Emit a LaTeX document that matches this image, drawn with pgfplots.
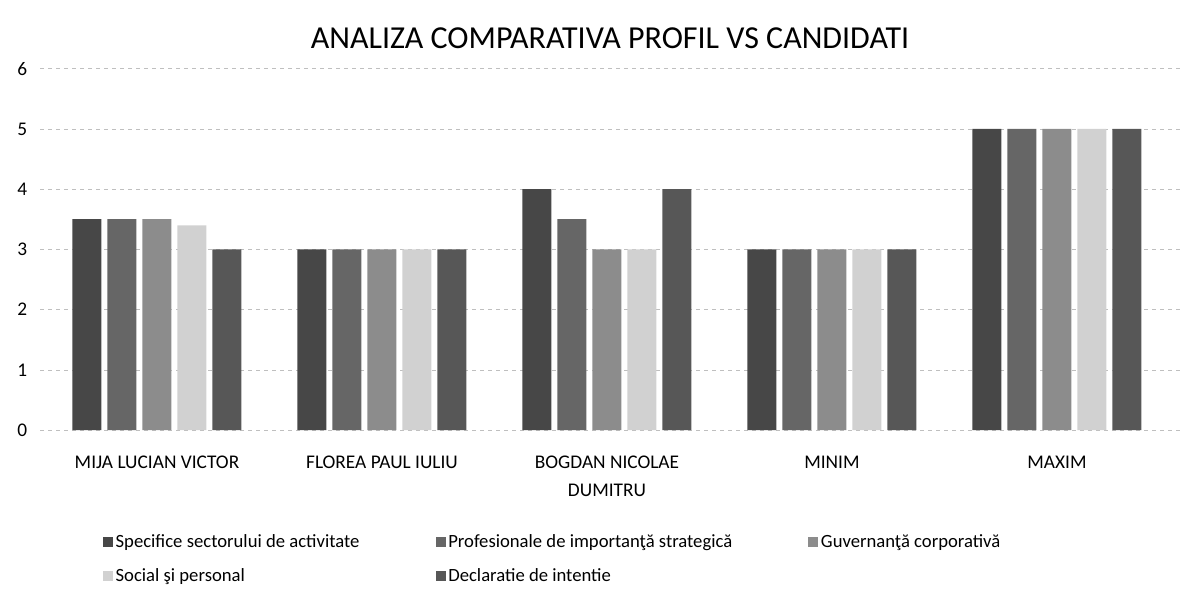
\documentclass[border=0pt]{standalone}
\usepackage{fontspec}
\setmainfont{Carlito}
\usepackage{pgfplots}
\pgfplotsset{compat=1.18}
\begin{document}
\begin{tikzpicture}
\path[use as bounding box] (0,0) rectangle (890.25pt,459pt);
\begin{axis}[
  at={(30pt,136.5pt)}, anchor=south west,
  scale only axis, width=855pt, height=271pt,
  ybar=4.5pt, bar width=21.75pt,
  xmin=-0.52, xmax=4.547, ymin=0, ymax=6,
  ytick={0,1,2,3,4,5,6},
  xtick=data,
  xticklabels={MIJA LUCIAN VICTOR, FLOREA PAUL IULIU, {BOGDAN NICOLAE\\DUMITRU}, MINIM, MAXIM},
  xticklabel style={align=center, font=\fontsize{14.5}{21}\selectfont, yshift=-16pt},
  yticklabel style={font=\fontsize{14.5}{17}\selectfont, xshift=-6pt},
  /pgf/number format/assume math mode=true,
  major tick length=0pt,
  axis line style={draw=none},
  ymajorgrids,
  grid style={black!25, dashed},
  title={ANALIZA COMPARATIVA PROFIL VS CANDIDATI},
  title style={font=\fontsize{24}{28}\selectfont, at={(0.5,1)}, anchor=center, yshift=17pt},
  legend columns=3,
  legend style={draw=none, fill=none, at={(0.0515,-0.274)}, anchor=north west,
    font=\fontsize{14}{17}\selectfont, row sep=10.5pt,
    /tikz/every even column/.append style={column sep=0pt}},
  legend cell align=left,
  legend image code/.code={\fill[#1] (0pt,-3.5pt) rectangle (7.5pt,4pt);},
]
\addplot[fill=black!72, draw=none] coordinates {(0,3.5) (1,3) (2,4) (3,3) (4,5)};
\addplot[fill=black!60, draw=none] coordinates {(0,3.5) (1,3) (2,3.5) (3,3) (4,5)};
\addplot[fill=black!45, draw=none] coordinates {(0,3.5) (1,3) (2,3) (3,3) (4,5)};
\addplot[fill=black!18, draw=none] coordinates {(0,3.4) (1,3) (2,3) (3,3) (4,5)};
\addplot[fill=black!66, draw=none] coordinates {(0,3) (1,3) (2,4) (3,3) (4,5)};
\addlegendentry{\makebox[238pt][l]{Specifice sectorului de activitate}}
\addlegendentry{\makebox[268pt][l]{Profesionale de importanţă strategică}}
\addlegendentry{Guvernanţă corporativă}
\addlegendentry{Social şi personal}
\addlegendentry{Declaratie de intentie}
\end{axis}
\end{tikzpicture}
\end{document}
